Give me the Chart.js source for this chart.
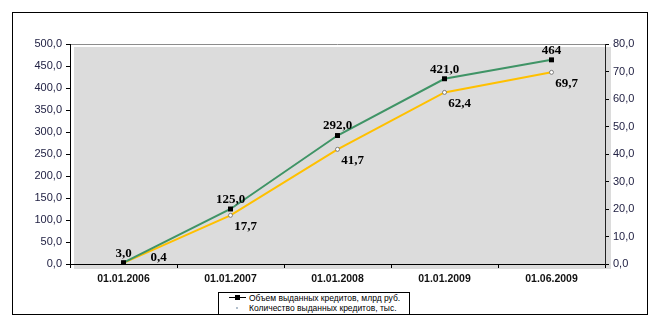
<!DOCTYPE html>
<html>
<head>
<meta charset="utf-8">
<script src="https://cdn.jsdelivr.net/npm/chart.js@4/dist/chart.umd.min.js"></script>
<style>
  body { margin: 0; background: #fff; }
  #wrap { position: relative; width: 663px; height: 325px; }
  #frame { position: absolute; left: 12px; top: 12px; width: 634px; height: 301px; border: 1px solid #000; }
  #chart { position: absolute; left: 0; top: 0; }
  #legend {
    position: absolute; left: 218px; top: 292px; width: 190px; height: 21px;
    border: 1px solid #000; background: #fff;
    font-family: "Liberation Sans", Arial, sans-serif; font-size: 8.5px; color: #000;
  }
  .row { position: absolute; left: 0; height: 10px; line-height: 10px; white-space: nowrap; }
  .row span.t { position: absolute; left: 30px; }
  .mk-line { position: absolute; left: 10px; top: 4px; width: 17px; height: 1px; background: #000; }
  .mk-sq { position: absolute; left: 16px; top: 2px; width: 5px; height: 5px; background: #000; }
  .mk-dot { position: absolute; left: 17px; top: 4px; width: 2px; height: 2px; background: #9ab; border-radius: 1px; }
</style>
</head>
<body>
<div id="wrap">
  <div id="frame"></div>
  <canvas id="chart" width="663" height="325"></canvas>
  <div id="legend">
    <div class="row" style="top:0px;"><div class="mk-line"></div><div class="mk-sq"></div><span class="t">Объем выданных кредитов, млрд руб.</span></div>
    <div class="row" style="top:10px;"><div class="mk-dot"></div><span class="t">Количество выданных кредитов, тыс.</span></div>
  </div>
</div>
<script>
// Data
const dates = ["01.01.2006", "01.01.2007", "01.01.2008", "01.01.2009", "01.06.2009"];
const volume = [3.0, 125.0, 292.0, 421.0, 464];
const volumeLabels = ["3,0", "125,0", "292,0", "421,0", "464"];
const count = [0.4, 17.7, 41.7, 62.4, 69.7];
const countLabels = ["0,4", "17,7", "41,7", "62,4", "69,7"];

const fmt = (v) => v.toFixed(1).replace(".", ",");
const tickFont = { family: "'Liberation Sans', Arial, sans-serif", size: 11 };

// grey plot background, slightly offset like the original
const bgPlugin = {
  id: "bg",
  beforeDraw(chart) {
    const { ctx, chartArea: a } = chart;
    ctx.save();
    ctx.fillStyle = "#dcdcdc";
    ctx.fillRect(a.left + 4, a.top + 3, a.right - a.left + 2, a.bottom - a.top + 2);
    ctx.strokeStyle = "#8c8c8c";
    ctx.lineWidth = 1;
    ctx.beginPath();
    ctx.moveTo(a.left, a.top + 0.5);
    ctx.lineTo(a.right, a.top + 0.5);
    ctx.stroke();
    ctx.restore();
  },
};

// value labels
const labelPlugin = {
  id: "vals",
  afterDatasetsDraw(chart) {
    const { ctx, chartArea: a } = chart;
    ctx.save();
    ctx.font = "bold 13px 'Liberation Serif', 'Times New Roman', serif";
    ctx.fillStyle = "#000";
    chart.getDatasetMeta(0).data.forEach((p, i) => {
      ctx.textAlign = "center";
      ctx.textBaseline = "bottom";
      ctx.fillText(volumeLabels[i], p.x, p.y - 3);
    });
    chart.getDatasetMeta(1).data.forEach((p, i) => {
      ctx.textAlign = "center";
      ctx.textBaseline = "middle";
      let x = p.x + 15;
      let y = p.y + 11;
      // keep the label inside the plot, moved aside like the original
      if (y > a.bottom - 7) { y = a.bottom - 6; x = p.x + 35; }
      ctx.fillText(countLabels[i], x, y);
    });
    ctx.restore();
  },
};

new Chart(document.getElementById("chart"), {
  type: "line",
  data: {
    labels: dates,
    datasets: [
      {
        label: "Объем выданных кредитов, млрд руб.",
        data: volume,
        yAxisID: "y",
        borderColor: "#3f9466",
        borderWidth: 2,
        pointStyle: "rect",
        pointRadius: 3.5,
        pointBackgroundColor: "#000",
        pointBorderColor: "#000",
        pointBorderWidth: 0,
        tension: 0,
      },
      {
        label: "Количество выданных кредитов, тыс.",
        data: count,
        yAxisID: "y2",
        borderColor: "#ffc000",
        borderWidth: 2,
        pointRadius: 2,
        pointBackgroundColor: "#fff",
        pointBorderColor: "#555",
        pointBorderWidth: 0.7,
        tension: 0,
      },
    ],
  },
  options: {
    responsive: false,
    animation: false,
    layout: { padding: { top: 44, left: 0, right: 0, bottom: 0 } },
    plugins: { legend: { display: false }, tooltip: { enabled: false } },
    scales: {
      x: {
        offset: true,
        grid: { offset: true, drawOnChartArea: false, tickLength: 4, color: "#000" },
        border: { color: "#000", width: 1 },
        ticks: { color: "#111", font: { ...tickFont, size: 10.5, weight: "bold" }, padding: 5, maxRotation: 0 },
        afterFit: (s) => { s.height = 61; },
      },
      y: {
        position: "left",
        min: 0,
        max: 500,
        ticks: { stepSize: 50, color: "#222244", font: tickFont, padding: 4, callback: (v) => fmt(v) },
        grid: { drawOnChartArea: false, tickLength: 4, color: "#000" },
        border: { color: "#000", width: 1 },
        afterFit: (s) => { s.width = 70; },
      },
      y2: {
        position: "right",
        min: 0,
        max: 80,
        ticks: { stepSize: 10, color: "#222244", font: tickFont, padding: 4, callback: (v) => fmt(v) },
        grid: { drawOnChartArea: false, tickLength: 4, color: "#000" },
        border: { color: "#222", width: 1 },
        afterFit: (s) => { s.width = 58; },
      },
    },
  },
  plugins: [bgPlugin, labelPlugin],
});
</script>
</body>
</html>
